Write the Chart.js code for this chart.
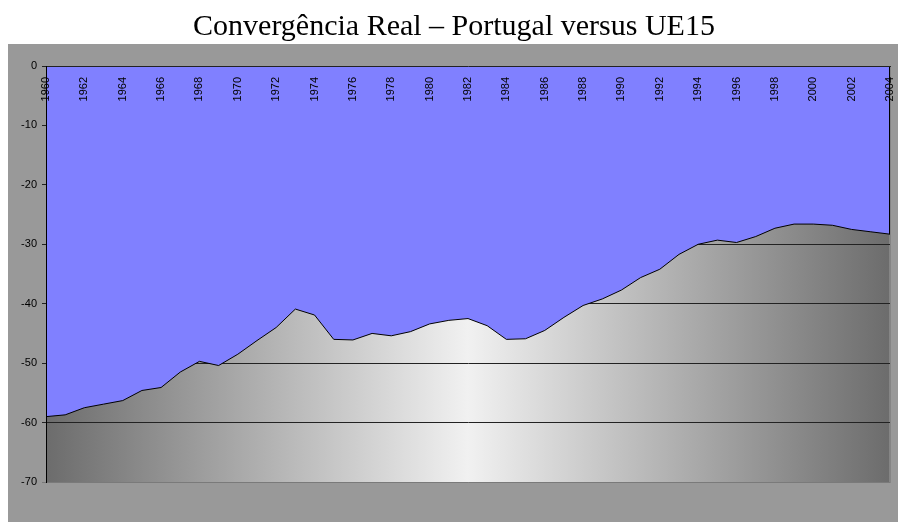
<!DOCTYPE html>
<html>
<head>
<meta charset="utf-8">
<script src="https://cdn.jsdelivr.net/npm/chart.js@4/dist/chart.umd.min.js"></script>
<style>
  html, body { margin: 0; padding: 0; background: #fff; }
  canvas { display: block; }
</style>
</head>
<body>
<canvas id="chart" width="898" height="522"></canvas>
<script>
// anos (eixo das categorias)
const years = ['1960','1961','1962','1963','1964','1965','1966','1967','1968','1969',
  '1970','1971','1972','1973','1974','1975','1976','1977','1978','1979',
  '1980','1981','1982','1983','1984','1985','1986','1987','1988','1989',
  '1990','1991','1992','1993','1994','1995','1996','1997','1998','1999',
  '2000','2001','2002','2003','2004'];

// diferença do PIB per capita face à UE15 (%)
const gap = [-59.0, -58.7, -57.5, -56.9, -56.3, -54.6, -54.1, -51.5, -49.7, -50.4,
  -48.5, -46.2, -44.0, -40.9, -41.9, -46.0, -46.1, -45.0, -45.4, -44.7,
  -43.4, -42.8, -42.5, -43.7, -46.0, -45.9, -44.5, -42.3, -40.3, -39.2,
  -37.7, -35.6, -34.2, -31.7, -30.0, -29.3, -29.7, -28.7, -27.3, -26.6,
  -26.6, -26.8, -27.5, -27.9, -28.3];

const title = 'Convergência Real – Portugal versus UE15';
const yMin = -70, yMax = 0, yStep = 10;

// fundo cinzento + gradiente da área de desenho
const backdrop = {
  id: 'backdrop',
  beforeDraw(chart) {
    const c = chart.ctx, a = chart.chartArea;
    c.save();
    c.fillStyle = '#fff';
    c.fillRect(0, 0, chart.width, chart.height);
    c.fillStyle = '#999999';
    c.fillRect(8, 44, chart.width - 8, chart.height - 44);
    const g = c.createLinearGradient(a.left, 0, a.right, 0);
    g.addColorStop(0, '#6c6c6c');
    g.addColorStop(0.5, '#f1f1f1');
    g.addColorStop(1, '#6c6c6c');
    c.fillStyle = g;
    c.fillRect(a.left, a.top, a.right - a.left, a.bottom - a.top);
    c.fillStyle = '#858585';
    c.fillRect(a.right - 1, a.top, 2, a.bottom - a.top + 1);
    c.restore();
  },
  afterDatasetsDraw(chart) {
    // aresta direita da área azul
    const c = chart.ctx, a = chart.chartArea, y = chart.scales.y;
    c.save();
    c.strokeStyle = '#000';
    c.lineWidth = 1;
    c.beginPath();
    c.moveTo(a.right - 0.5, y.getPixelForValue(0));
    c.lineTo(a.right - 0.5, y.getPixelForValue(gap[gap.length - 1]));
    c.stroke();
    c.restore();
  }
};

new Chart(document.getElementById('chart'), {
  type: 'line',
  data: {
    labels: years,
    datasets: [{
      data: gap,
      borderColor: '#000',
      borderWidth: 1,
      backgroundColor: '#8080ff',
      fill: 'origin',
      pointRadius: 0,
      tension: 0
    }]
  },
  options: {
    responsive: false,
    animation: false,
    layout: { padding: { left: 18, right: 8, top: 0, bottom: 40 } },
    plugins: {
      legend: { display: false },
      tooltip: { enabled: false },
      title: {
        display: true,
        text: title,
        color: '#000',
        font: { family: 'Liberation Serif', size: 30, weight: 'normal' },
        padding: { top: 9, bottom: 21 }
      }
    },
    scales: {
      x: {
        position: { y: 0 },
        offset: false,
        afterFit(scale) { scale.paddingLeft = 0; scale.paddingRight = 0; },
        grid: { display: false },
        border: { display: true, color: '#222', width: 1, z: 1 },
        ticks: {
          z: 1,
          autoSkip: false,
          minRotation: 90,
          maxRotation: 90,
          padding: 3,
          color: '#000',
          font: { family: 'Liberation Sans', size: 11 },
          callback: (v, i) => (i % 2 === 0 ? years[i] : '')
        }
      },
      y: {
        min: yMin,
        max: yMax,
        afterFit(scale) { scale.width = 28; },
        grid: {
          color: ctx => (ctx.tick && ctx.tick.value === yMin ? '#7a7a7a' : '#222'),
          lineWidth: 1,
          tickLength: 4
        },
        border: { display: true, color: '#000', width: 1, z: 1 },
        ticks: {
          stepSize: yStep,
          padding: 5,
          color: '#000',
          font: { family: 'Liberation Sans', size: 11 }
        }
      }
    }
  },
  plugins: [backdrop]
});
</script>
</body>
</html>
